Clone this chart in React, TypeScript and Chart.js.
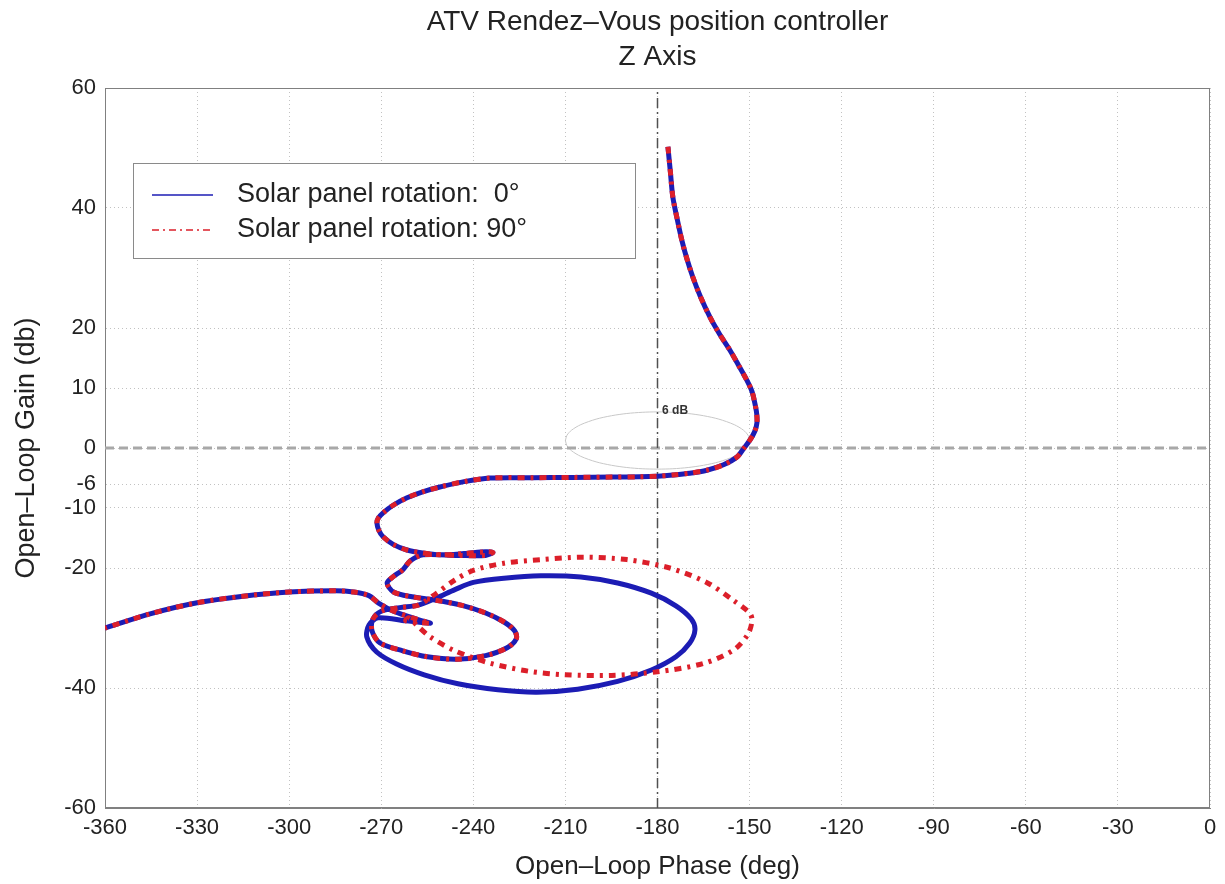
import React, { useEffect, useRef } from 'react';
import { Chart, registerables } from 'chart.js';

Chart.register(...registerables);

const titleLines = ['ATV Rendez–Vous position controller', 'Z Axis'];
const xAxisTitle = 'Open–Loop Phase (deg)';
const yAxisTitle = 'Open–Loop Gain (db)';
const seriesLabels = ['Solar panel rotation:  0°', 'Solar panel rotation: 90°'];
const contourLabel = '6 dB';
const yTickValues = [60, 40, 20, 10, 0, -6, -10, -20, -40, -60];
const xMin = -360;
const xMax = 0;
const xStep = 30;

// common low-frequency part (phase deg, gain dB)
const headPhase = [-176.6, -175.8, -175.0, -173.6, -172.1, -170.4, -168.5, -166.0, -162.9, -159.8, -156.4, -153.6, -150.9, -149.2, -148.3, -147.7, -147.6, -148.3, -149.9, -151.8, -154.1, -158.5, -163.9, -169.5, -175.0, -180.0, -185.7, -195.0, -207.6, -221.0, -234.6, -243.0, -250.9, -256.5, -261.6, -266.0, -269.4, -271.0, -271.4, -270.8, -269.4, -266.0, -261.6, -256.5, -250.9, -243.0, -236.0, -233.6, -236.0, -245.0, -256.4, -260.5, -263.0, -266.0, -268.1];
const headGain = [50.2, 46.0, 41.8, 38.2, 34.7, 31.5, 28.5, 25.2, 21.8, 19.0, 16.3, 13.8, 11.3, 9.4, 7.5, 5.8, 4.2, 2.8, 1.3, 0.0, -1.5, -2.8, -3.7, -4.2, -4.5, -4.7, -4.8, -4.85, -4.9, -4.95, -5.0, -5.6, -6.5, -7.3, -8.3, -9.5, -10.8, -11.7, -12.5, -13.7, -14.8, -16.1, -17.0, -17.5, -17.8, -17.6, -17.3, -17.4, -17.9, -17.9, -17.8, -18.8, -20.3, -21.4, -22.5];

// common small inner loop
const innerPhase = [-266.0, -260.0, -253.0, -244.0, -236.0, -230.0, -226.5, -226.0, -229.0, -236.0, -245.4, -255.0, -263.0, -270.4, -273.0, -272.7, -270.0, -264.0, -258.0];
const innerGain = [-24.0, -24.8, -25.3, -26.2, -27.5, -29.0, -30.5, -31.8, -33.3, -34.6, -35.2, -34.8, -33.8, -32.5, -30.5, -28.5, -27.2, -26.6, -26.2];

// big loop, panel rotation 0°
const blueLoopPhase = [-252.0, -246.0, -240.0, -230.0, -218.0, -205.0, -193.0, -182.0, -174.0, -169.0, -167.8, -169.5, -174.0, -182.0, -193.0, -206.0, -219.3, -232.0, -245.0, -256.0, -265.0, -271.5, -274.7, -274.0, -271.0];
const blueLoopGain = [-25.0, -23.6, -22.4, -21.7, -21.3, -21.5, -22.5, -24.2, -26.3, -28.5, -30.3, -32.5, -34.8, -37.0, -38.9, -40.2, -40.7, -40.3, -39.3, -37.8, -36.0, -34.0, -31.5, -29.5, -28.3];

// big loop, panel rotation 90°
const redLoopPhase = [-252.0, -246.0, -240.0, -230.0, -218.0, -204.3, -190.0, -176.0, -164.0, -155.0, -150.0, -149.2, -150.5, -155.0, -165.0, -180.0, -195.0, -210.0, -222.0, -235.0, -246.0, -254.0, -258.5, -261.0];
const redLoopGain = [-24.2, -22.0, -20.4, -19.2, -18.6, -18.2, -18.6, -20.0, -22.4, -25.5, -27.5, -28.7, -31.0, -33.6, -35.9, -37.3, -37.9, -37.8, -37.2, -35.8, -33.8, -31.5, -29.5, -28.3];

// common high-frequency tail
const tailPhase = [-262.0, -254.0, -258.0, -266.0, -271.0, -274.0, -279.0, -285.0, -300.0, -315.0, -330.0, -345.0, -360.0];
const tailGain = [-28.8, -29.2, -28.6, -27.2, -25.8, -24.6, -24.0, -23.8, -24.0, -24.7, -25.8, -27.6, -30.0];

// 6 dB closed-loop contour
const contourPhase = [-210, -209.5, -208, -205, -200, -195, -190, -185, -180, -175, -170, -165, -160, -155, -152, -150.5, -150, -150.5, -152, -155, -160, -165, -170, -175, -180, -185, -190, -195, -200, -205, -208, -209.5, -210];
const contourGain = [1.25, 2.12, 2.97, 3.89, 4.81, 5.38, 5.75, 5.95, 6.02, 5.95, 5.75, 5.38, 4.81, 3.89, 2.97, 2.12, 1.25, 0.37, -0.46, -1.39, -2.31, -2.88, -3.25, -3.46, -3.52, -3.46, -3.25, -2.88, -2.31, -1.39, -0.46, 0.37, 1.25];

const zeroLinePhase = [-360, 0];
const zeroLineGain = [0, 0];
const critLinePhase = [-180, -180];
const critLineGain = [-60, 60];

const BLUE = '#1c1cb4';
const RED = '#dc1f2a';
const FONT = "'Liberation Sans', Arial, Helvetica, sans-serif";

const toPoints = (xs: number[], ys: number[]) => xs.map((x, i) => ({ x, y: ys[i] }));

const bluePath = [
  ...toPoints(headPhase, headGain),
  ...toPoints(innerPhase, innerGain),
  ...toPoints(blueLoopPhase, blueLoopGain),
  ...toPoints(tailPhase, tailGain),
];
const redPath = [
  ...toPoints(headPhase, headGain),
  ...toPoints(innerPhase, innerGain),
  ...toPoints(redLoopPhase, redLoopGain),
  ...toPoints(tailPhase, tailGain),
];

const decorPlugin = {
  id: 'decor',
  beforeDatasetsDraw(chart: any) {
    const { ctx, chartArea: a } = chart;
    ctx.save();
    ctx.strokeStyle = '#808080';
    ctx.lineWidth = 1;
    ctx.setLineDash([]);
    ctx.strokeRect(a.left + 0.5, a.top + 0.5, a.right - a.left - 1, a.bottom - a.top - 1);
    ctx.restore();
  },
  afterDatasetsDraw(chart: any) {
    const { ctx, chartArea: a, scales } = chart;
    // 6 dB label
    ctx.save();
    ctx.fillStyle = '#333';
    ctx.font = `bold 12px ${FONT}`;
    ctx.textBaseline = 'middle';
    ctx.textAlign = 'left';
    ctx.fillText(contourLabel, scales.x.getPixelForValue(-178.5), scales.y.getPixelForValue(6.3));
    ctx.restore();

    // legend box
    const bx = a.left + 28;
    const by = a.top + 75;
    const bw = 502;
    const bh = 95;
    ctx.save();
    ctx.fillStyle = '#ffffff';
    ctx.fillRect(bx, by, bw, bh);
    ctx.strokeStyle = '#8a8a8a';
    ctx.lineWidth = 1;
    ctx.strokeRect(bx + 0.5, by + 0.5, bw, bh);
    const rows = [
      { label: seriesLabels[0], color: BLUE, dash: [] as number[] },
      { label: seriesLabels[1], color: RED, dash: [7, 4, 2, 4] },
    ];
    rows.forEach((r, i) => {
      const y = by + 32 + i * 35;
      ctx.beginPath();
      ctx.strokeStyle = r.color;
      ctx.lineWidth = 1.5;
      ctx.setLineDash(r.dash);
      ctx.moveTo(bx + 19, y);
      ctx.lineTo(bx + 80, y);
      ctx.stroke();
      ctx.setLineDash([]);
      ctx.fillStyle = '#222';
      ctx.font = `27px ${FONT}`;
      ctx.textBaseline = 'middle';
      ctx.textAlign = 'left';
      ctx.fillText(r.label, bx + 104, y);
    });
    ctx.restore();
  },
  afterDraw(chart: any) {
    const { ctx, chartArea: a } = chart;
    ctx.save();
    ctx.fillStyle = '#222';
    ctx.font = `28px ${FONT}`;
    ctx.textAlign = 'center';
    ctx.textBaseline = 'middle';
    const cx = (a.left + a.right) / 2;
    ctx.fillText(titleLines[0], cx, 22);
    ctx.fillText(titleLines[1], cx, 57);
    ctx.restore();
  },
};

export default function App() {
  const ref = useRef<HTMLCanvasElement | null>(null);

  useEffect(() => {
    if (!ref.current) return;
    Chart.defaults.font.family = FONT;
    const chart = new Chart(ref.current, {
      type: 'scatter',
      data: {
        datasets: [
          {
            label: seriesLabels[1],
            data: redPath,
            showLine: true,
            borderColor: RED,
            backgroundColor: RED,
            borderWidth: 5,
            borderDash: [7, 6, 3, 6],
            pointRadius: 0,
            tension: 0.3,
            order: 0,
          },
          {
            label: seriesLabels[0],
            data: bluePath,
            showLine: true,
            borderColor: BLUE,
            backgroundColor: BLUE,
            borderWidth: 5,
            pointRadius: 0,
            tension: 0.3,
            order: 1,
          },
          {
            label: 'crit',
            data: toPoints(critLinePhase, critLineGain),
            showLine: true,
            borderColor: '#505050',
            borderWidth: 1.5,
            borderDash: [10, 4, 2, 4],
            pointRadius: 0,
            order: 2,
          },
          {
            label: 'zero',
            data: toPoints(zeroLinePhase, zeroLineGain),
            showLine: true,
            borderColor: '#a8a8a8',
            borderWidth: 3,
            borderDash: [9, 5],
            pointRadius: 0,
            order: 3,
          },
          {
            label: 'contour',
            data: toPoints(contourPhase, contourGain),
            showLine: true,
            borderColor: '#c8c8c8',
            borderWidth: 1,
            pointRadius: 0,
            tension: 0.3,
            order: 4,
          },
        ],
      },
      options: {
        animation: false,
        responsive: false,
        layout: { padding: { top: 88, right: 15, left: 0, bottom: 0 } },
        plugins: {
          legend: { display: false },
          title: { display: false },
          tooltip: { enabled: false },
        },
        scales: {
          x: {
            type: 'linear',
            min: xMin,
            max: xMax,
            ticks: {
              stepSize: xStep,
              color: '#222',
              font: { size: 22, family: FONT },
              padding: 7,
              maxRotation: 0,
              autoSkip: false,
            },
            grid: { color: '#c2c2c2', lineWidth: 1, drawTicks: false },
            border: { display: true, color: '#808080', width: 1, dash: [1, 3] },
            title: {
              display: true,
              text: xAxisTitle,
              color: '#222',
              font: { size: 26, family: FONT },
              padding: { top: 0, bottom: 2 },
            },
            afterFit: (s: any) => {
              s.height = 76;
            },
          },
          y: {
            type: 'linear',
            min: -60,
            max: 60,
            afterBuildTicks: (s: any) => {
              s.ticks = yTickValues.map((v) => ({ value: v }));
            },
            ticks: {
              color: '#222',
              font: { size: 22, family: FONT },
              padding: 9,
              autoSkip: false,
              callback: (v: any) => String(v),
            },
            grid: { color: '#c2c2c2', lineWidth: 1, drawTicks: false },
            border: { display: true, color: '#808080', width: 1, dash: [1, 3] },
            title: {
              display: true,
              text: yAxisTitle,
              color: '#222',
              font: { size: 27, family: FONT },
              padding: { top: 10, bottom: 0 },
            },
            afterFit: (s: any) => {
              s.width = 105;
            },
          },
        },
      },
      plugins: [decorPlugin],
    });
    return () => chart.destroy();
  }, []);

  return (
    <canvas
      ref={ref}
      width={1225}
      height={884}
      style={{ position: 'absolute', left: 0, top: 0, width: 1225, height: 884 }}
    />
  );
}
